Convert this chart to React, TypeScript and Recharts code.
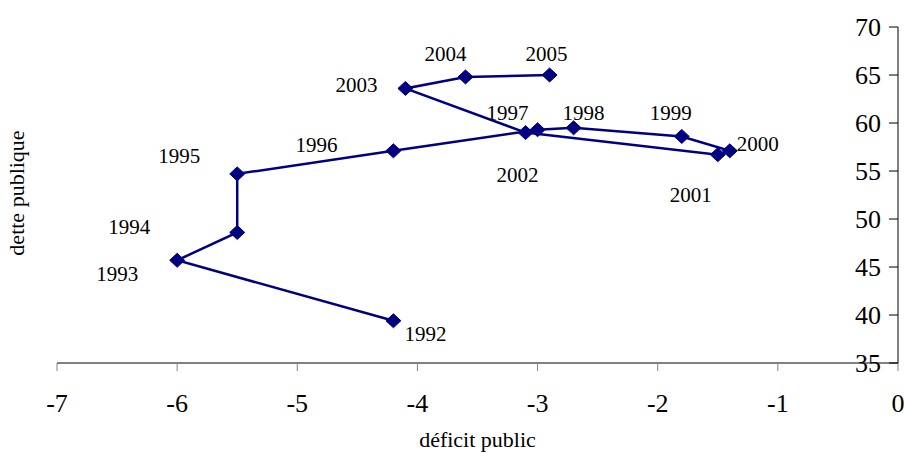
import React from 'react';
import { ScatterChart, Scatter, XAxis, YAxis, Label, Customized } from 'recharts';

// France: public deficit (% of GDP) vs public debt (% of GDP), 1992-2005
const years = [1992, 1993, 1994, 1995, 1996, 1997, 1998, 1999, 2000, 2001, 2002, 2003, 2004, 2005];
const deficit = [-4.2, -6.0, -5.5, -5.5, -4.2, -3.0, -2.7, -1.8, -1.4, -1.5, -3.1, -4.1, -3.6, -2.9];
const debt = [39.4, 45.7, 48.6, 54.7, 57.1, 59.3, 59.5, 58.6, 57.1, 56.7, 59.0, 63.6, 64.8, 65.0];

const xTicks = [-7, -6, -5, -4, -3, -2, -1, 0];
const yTicks = [35, 40, 45, 50, 55, 60, 65, 70];

// Year label placement: offset of the text centre from the marker centre (px)
const labelOffsets: [number, number][] = [
  [32, 13], [-60, 14], [-108, -5], [-58, -18], [-77, -6], [-30, -17], [10, -15],
  [-11, -23], [28, -7], [-27, 40], [-8, 42], [-49, -3], [-20, -23], [-3, -21],
];

const data = years.map((year, i) => ({ year, x: deficit[i], y: debt[i] }));

const NAVY = '#000080';
const FONT = 'Liberation Serif';
const LABEL_SIZE = 21;
const TICK_SIZE = 26;

const renderPoint = (props: any) => {
  const { cx, cy, payload } = props;
  if (cx == null || cy == null) return <g />;
  const i = years.indexOf(payload.year);
  const [dx, dy] = labelOffsets[i] || [0, 0];
  const hw = 7.5;
  const hh = 7;
  return (
    <g>
      <polygon
        points={`${cx},${cy - hh} ${cx + hw},${cy} ${cx},${cy + hh} ${cx - hw},${cy}`}
        fill={NAVY}
        stroke={NAVY}
      />
      <text
        x={cx + dx}
        y={cy + dy + LABEL_SIZE * 0.33}
        textAnchor="middle"
        style={{ fontFamily: FONT, fontSize: LABEL_SIZE }}
        fill="#000"
      >
        {payload.year}
      </text>
    </g>
  );
};

const XTick = (props: any) => {
  const { x, y, payload } = props;
  return (
    <text
      x={x}
      y={y + TICK_SIZE * 0.66}
      textAnchor="middle"
      style={{ fontFamily: FONT, fontSize: TICK_SIZE }}
      fill="#000"
    >
      {payload.value}
    </text>
  );
};

const YTick = (props: any) => {
  const { x, y, payload } = props;
  return (
    <text
      x={x}
      y={y + TICK_SIZE * 0.33}
      textAnchor="end"
      style={{ fontFamily: FONT, fontSize: TICK_SIZE }}
      fill="#000"
    >
      {payload.value}
    </text>
  );
};

const DebtTitle = () => (
  <text
    transform="translate(24,193) rotate(-90)"
    textAnchor="middle"
    style={{ fontFamily: FONT, fontSize: 22 }}
    fill="#000"
  >
    dette publique
  </text>
);

export default function App() {
  return (
    <div style={{ position: 'absolute', left: 0, top: 0, width: 904, height: 453, background: '#fff' }}>
      <ScatterChart
        width={904}
        height={453}
        margin={{ top: 27, right: 6, left: 57, bottom: 0 }}
        style={{ fontFamily: FONT }}
      >
        <XAxis
          type="number"
          dataKey="x"
          domain={[-7, 0]}
          ticks={xTicks}
          interval={0}
          allowDataOverflow
          height={90}
          axisLine={{ stroke: '#808080', strokeWidth: 2 }}
          tickLine={{ stroke: '#808080', strokeWidth: 1 }}
          tickSize={8}
          tickMargin={24}
          tick={<XTick />}
        >
          <Label
            value="déficit public"
            position="insideBottom"
            offset={6}
            fill="#000"
            style={{ fontFamily: FONT, fontSize: 22 }}
          />
        </XAxis>
        <YAxis
          type="number"
          dataKey="y"
          orientation="right"
          mirror
          domain={[35, 70]}
          ticks={yTicks}
          interval={0}
          allowDataOverflow
          axisLine={{ stroke: '#000', strokeWidth: 1 }}
          tickLine={{ stroke: '#000', strokeWidth: 1 }}
          tickSize={9}
          tickMargin={8}
          tick={<YTick />}
        />
        <Scatter
          data={data}
          fill={NAVY}
          line={{ stroke: NAVY, strokeWidth: 2.5 }}
          lineType="joint"
          shape={renderPoint}
          isAnimationActive={false}
        />
        <Customized component={DebtTitle} />
      </ScatterChart>
    </div>
  );
}
